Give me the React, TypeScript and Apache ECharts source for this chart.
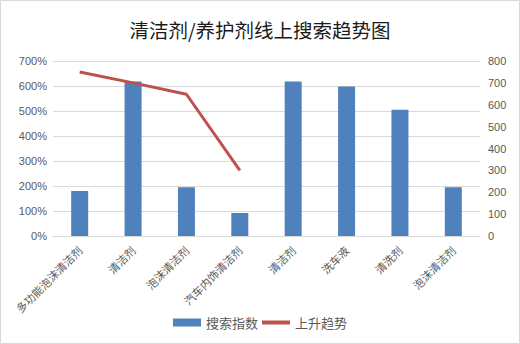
import React, { useEffect, useRef } from "react";
import * as echarts from "echarts";

const categories = [
  "多功能泡沫清洁剂",
  "清洁剂",
  "泡沫清洁剂",
  "汽车内饰清洁剂",
  "清洁剂",
  "洗车液",
  "清洗剂",
  "泡沫清洁剂",
];
const searchIndex = [180, 618, 195, 92, 618, 598, 505, 195];
const riseTrend: (number | null)[] = [750, 700, 648, 300, null, null, null, null];
const leftTicks = [0, 100, 200, 300, 400, 500, 600, 700];
const rightTicks = [0, 100, 200, 300, 400, 500, 600, 700, 800];

export default function App() {
  const ref = useRef<HTMLDivElement>(null);
  useEffect(() => {
    const chart = echarts.init(ref.current!, null, { renderer: "svg" });
    const font = "'Liberation Sans', 'Noto Sans CJK SC', sans-serif";
    chart.setOption({
      animation: false,
      textStyle: { fontFamily: font },
      title: {
        text: "清洁剂/养护剂线上搜索趋势图",
        left: "center",
        top: 15,
        textStyle: { fontSize: 19.5, fontWeight: "normal", color: "#1a1a1a", fontFamily: "'Noto Sans CJK SC', sans-serif" },
      },
      graphic: [
        {
          type: "rect",
          shape: { x: 0.5, y: 0.5, width: 519, height: 343 },
          style: { fill: "none", stroke: "#d9d9d9", lineWidth: 1 },
          silent: true,
        },
      ],
      legend: {
        bottom: 10,
        left: "center",
        itemWidth: 28,
        itemHeight: 8,
        itemGap: 4,
        textStyle: { fontSize: 13, color: "#595959", fontFamily: "'Noto Sans CJK SC', sans-serif" },
        data: [
          { name: "搜索指数", icon: "rect" },
          { name: "上升趋势", icon: "path://M0,0 L28,0 L28,4 L0,4 Z" },
        ],
      },
      grid: { left: 53, right: 40, top: 61, bottom: 108, containLabel: false },
      xAxis: {
        type: "category",
        data: categories,
        axisLine: { lineStyle: { color: "#d9d9d9" } },
        axisTick: { show: false },
        axisLabel: {
          rotate: 45,
          interval: 0,
          fontSize: 11,
          color: "#595959",
          margin: 12,
          fontFamily: "'Noto Sans CJK SC', sans-serif",
        },
      },
      yAxis: [
        {
          type: "value",
          min: leftTicks[0],
          max: leftTicks[leftTicks.length - 1],
          interval: 100,
          axisLine: { show: false },
          axisTick: { show: false },
          splitLine: { lineStyle: { color: "#d9d9d9" } },
          axisLabel: { color: "#595959", fontSize: 11, margin: 6, formatter: (v: number) => v + "%" },
        },
        {
          type: "value",
          min: rightTicks[0],
          max: rightTicks[rightTicks.length - 1],
          interval: 100,
          axisLine: { show: false },
          axisTick: { show: false },
          splitLine: { show: false },
          axisLabel: { color: "#595959", fontSize: 11, margin: 8 },
        },
      ],
      series: [
        {
          name: "搜索指数",
          type: "bar",
          yAxisIndex: 0,
          data: searchIndex,
          barWidth: 17,
          itemStyle: { color: "#4f81bd" },
        },
        {
          name: "上升趋势",
          type: "line",
          yAxisIndex: 1,
          data: riseTrend,
          symbol: "none",
          lineStyle: { color: "#c0504d", width: 3 },
          itemStyle: { color: "#c0504d" },
        },
      ],
    });
    return () => chart.dispose();
  }, []);
  return (
    <div
      ref={ref}
      style={{ position: "fixed", left: 0, top: 0, width: 520, height: 344, background: "#fff" }}
    />
  );
}
